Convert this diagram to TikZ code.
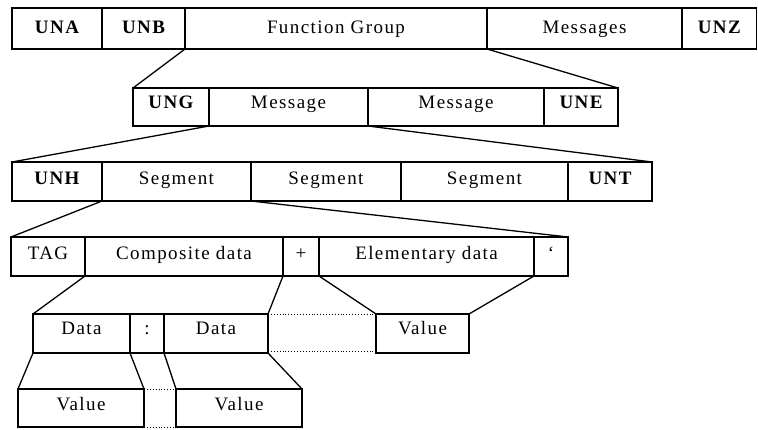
\documentclass[tikz,border=0pt]{standalone}
\usepackage{fontspec}
\setmainfont{Liberation Serif}[LetterSpace=7.5]
\newcommand\cellnode[7]{\node[#1, minimum width={#5pt-#3pt}, minimum height={#6pt-#4pt}] (#2) at ({(#3+#5)/2},{(#4+#6)/2}) {#7};}
\begin{document}
\begin{tikzpicture}[x=1pt,y=-1pt,
  cell/.style={draw, line width=1.4pt, inner sep=0pt, outer sep=0pt, font=\fontsize{19}{21}\selectfont, text height=12pt},
  bcell/.style={cell, font=\fontsize{19}{21}\selectfont\bfseries},
  link/.style={line width=1.3pt},
  dots/.style={dotted, line width=0.9pt}]
\useasboundingbox (0,0) rectangle (758,429);
% Row 1
\begin{scope}[every node/.append style={text depth=3pt}]
\cellnode{bcell}{una}{12}{8}{102}{49}{UNA}
\cellnode{bcell}{unb}{102}{8}{185}{49}{UNB}
\cellnode{cell}{fg}{185}{8}{487}{49}{Function Group}
\cellnode{cell}{msgs}{487}{8}{682}{49}{Messages}
\cellnode{bcell}{unz}{682}{8}{756.5}{49}{UNZ}
\end{scope}
% Row 2
\begin{scope}[every node/.append style={text depth=10pt}]
\cellnode{bcell}{ung}{133}{88}{209}{126}{UNG}
\cellnode{cell}{msga}{209}{88}{368}{126}{Message}
\cellnode{cell}{msgb}{368}{88}{544}{126}{Message}
\cellnode{bcell}{une}{544}{88}{618}{126}{UNE}
\end{scope}
% Row 3
\begin{scope}[every node/.append style={text depth=7pt}]
\cellnode{bcell}{unh}{12}{162}{102}{201}{UNH}
\cellnode{cell}{sega}{102}{162}{251}{201}{Segment}
\cellnode{cell}{segb}{251}{162}{401}{201}{Segment}
\cellnode{cell}{segc}{401}{162}{568}{201}{Segment}
\cellnode{bcell}{unt}{568}{162}{652}{201}{UNT}
\end{scope}
% Row 4
\begin{scope}[every node/.append style={text depth=7pt}]
\cellnode{cell}{tag}{11}{237}{85}{276}{TAG}
\cellnode{cell}{comp}{85}{237}{283}{276}{Composite data}
\cellnode{cell}{plus}{283}{237}{319}{276}{+}
\cellnode{cell}{elem}{319}{237}{534}{276}{Elementary data}
\cellnode{cell}{quote}{534}{237}{568}{276}{‘}
\end{scope}
% Row 5
\begin{scope}[every node/.append style={text depth=11pt}]
\cellnode{cell}{dataa}{33}{314}{130}{353}{Data}
\cellnode{cell}{colon}{130}{314}{164}{353}{:}
\cellnode{cell}{datab}{164}{314}{268}{353}{Data}
\cellnode{cell}{valc}{376}{314}{469}{353}{Value}
\end{scope}
% Row 6
\begin{scope}[every node/.append style={text depth=8pt}]
\cellnode{cell}{vala}{18}{389}{144}{427}{Value}
\cellnode{cell}{valb}{176}{389}{302}{427}{Value}
\end{scope}
% connectors
\draw[link] (unb.south east) -- (ung.north west);
\draw[link] (fg.south east) -- (une.north east);
\draw[link] (ung.south east) -- (unh.north west);
\draw[link] (msga.south east) -- (unt.north east);
\draw[link] (unh.south east) -- (tag.north west);
\draw[link] (segb.south west) -- (quote.north east);
\draw[link] (tag.south east) -- (dataa.north west);
\draw[link] (comp.south east) -- (datab.north east);
\draw[link] (plus.south east) -- (valc.north west);
\draw[link] (elem.south east) -- (valc.north east);
\draw[link] (dataa.south west) -- (vala.north west);
\draw[link] (dataa.south east) -- (vala.north east);
\draw[link] (colon.south east) -- (valb.north west);
\draw[link] (datab.south east) -- (valb.north east);
\draw[dots] (datab.north east) -- (valc.north west);
\draw[dots] ([yshift=2pt]datab.south east) -- ([yshift=2pt]valc.south west);
\draw[dots] (vala.north east) -- (valb.north west);
\draw[dots] (vala.south east) -- (valb.south west);
\end{tikzpicture}
\end{document}
